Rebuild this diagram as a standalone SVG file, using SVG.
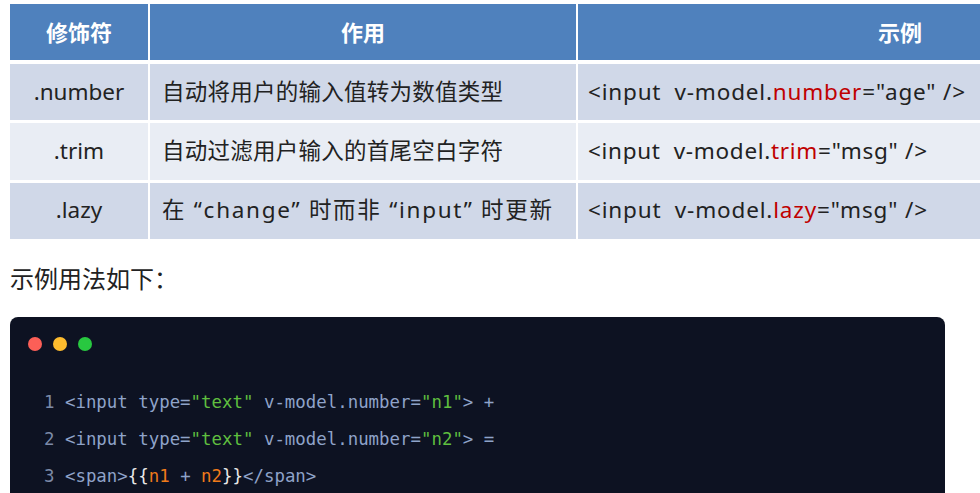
<svg xmlns="http://www.w3.org/2000/svg" width="980" height="493" viewBox="0 0 980 493">
<style>
.h{font-family:"Liberation Sans","Noto Sans CJK SC",sans-serif;font-size:22px;font-weight:bold;fill:#fff}
.t{font-family:"Noto Sans","Noto Sans CJK SC",sans-serif;font-size:22.5px;fill:#222}
.r{fill:#c00000}
.c{font-family:"DejaVu Sans Mono","Liberation Mono",monospace;font-size:17.4px;fill:#8fa3c9}
.n{fill:#7c8aa8}.g{fill:#5fbf3f}.o{fill:#f07a1a}.w{fill:#e8e8e8}
</style>
<rect width="980" height="493" fill="#fff"/>
<g id="table">
<rect x="10" y="4" width="970" height="56" fill="#4f81bd"/>
<rect x="10" y="64" width="970" height="56" fill="#d0d8e8"/>
<rect x="10" y="123" width="970" height="57" fill="#e9edf4"/>
<rect x="10" y="183" width="970" height="56" fill="#d0d8e8"/>
<g stroke="#fff" stroke-width="2"><line x1="149" y1="4" x2="149" y2="240"/><line x1="577" y1="4" x2="577" y2="240"/></g>
<text class="h" x="79" y="41" text-anchor="middle">修饰符</text>
<text class="h" x="363" y="41" text-anchor="middle">作用</text>
<text class="h" x="900" y="41" text-anchor="middle">示例</text>
<text class="t" x="79" y="100" text-anchor="middle">.number</text>
<text class="t" x="79" y="159" text-anchor="middle">.trim</text>
<text class="t" x="79" y="218" text-anchor="middle">.lazy</text>
<text class="t" x="162" y="100" textLength="341">自动将用户的输入值转为数值类型</text>
<text class="t" x="162" y="159" textLength="341">自动过滤用户输入的首尾空白字符</text>
<text class="t" x="162" y="218" textLength="390" lengthAdjust="spacing">在 “change” 时而非 “input” 时更新</text>
<text class="t" x="588" y="100" xml:space="preserve" textLength="377">&lt;input  v-model.<tspan class="r">number</tspan>="age" /&gt;</text>
<text class="t" x="588" y="159" xml:space="preserve" textLength="339">&lt;input  v-model.<tspan class="r">trim</tspan>="msg" /&gt;</text>
<text class="t" x="588" y="218" xml:space="preserve" textLength="339">&lt;input  v-model.<tspan class="r">lazy</tspan>="msg" /&gt;</text>
</g>
<text class="t" x="10" y="288" style="font-size:24px">示例用法如下：</text>
<g id="code">
<rect x="10" y="317" width="935" height="190" rx="8" fill="#0d1222"/>
<circle cx="35" cy="344" r="7" fill="#fc5f57"/>
<circle cx="60" cy="344" r="7" fill="#fdbc2e"/>
<circle cx="85" cy="344" r="7" fill="#28c840"/>
<text class="c" x="44" y="408" xml:space="preserve"><tspan class="n">1</tspan> &lt;input type=<tspan class="g">"text"</tspan> v-model.number=<tspan class="g">"n1"</tspan>&gt; +</text>
<text class="c" x="44" y="445" xml:space="preserve"><tspan class="n">2</tspan> &lt;input type=<tspan class="g">"text"</tspan> v-model.number=<tspan class="g">"n2"</tspan>&gt; =</text>
<text class="c" x="44" y="482" xml:space="preserve"><tspan class="n">3</tspan> &lt;span&gt;<tspan class="w">{{</tspan><tspan class="o">n1</tspan> + <tspan class="o">n2</tspan><tspan class="w">}}</tspan>&lt;/span&gt;</text>
</g>
</svg>
